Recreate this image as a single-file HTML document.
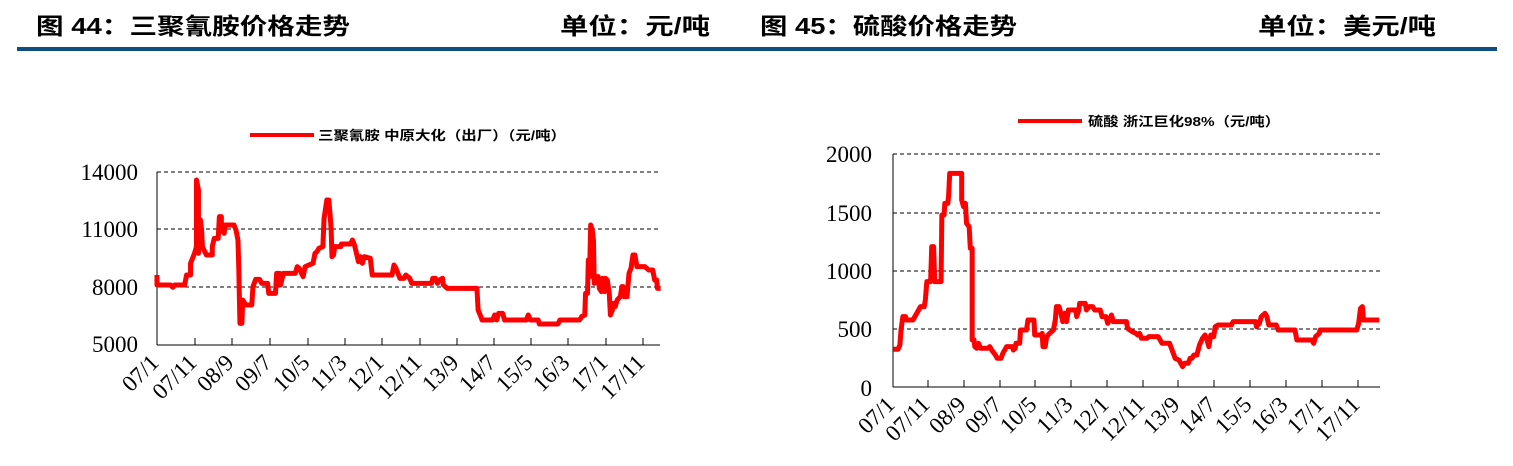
<!DOCTYPE html>
<html><head><meta charset="utf-8"><style>
html,body{margin:0;padding:0;background:#fff;}
svg{display:block;}
.t{font-family:"Liberation Sans","Noto Sans CJK SC",sans-serif;font-weight:bold;font-size:23px;fill:#000;}
.n{font-family:"Liberation Serif","Noto Serif CJK SC",serif;font-size:23px;fill:#000;}
.lg{font-family:"Liberation Sans","Noto Sans CJK SC",sans-serif;font-weight:bold;font-size:13px;fill:#000;}
.g{stroke:#000;stroke-width:1;stroke-dasharray:4,3;}
</style></head><body>
<svg width="1513" height="466" viewBox="0 0 1513 466" xmlns="http://www.w3.org/2000/svg">
<rect width="1513" height="466" fill="#fff"/>
<text class="t" x="36" y="34" textLength="314" lengthAdjust="spacingAndGlyphs">图 44：三聚氰胺价格走势</text>
<text class="t" x="560" y="34" textLength="150" lengthAdjust="spacingAndGlyphs">单位：元/吨</text>
<text class="t" x="760" y="34" textLength="257" lengthAdjust="spacingAndGlyphs">图 45：硫酸价格走势</text>
<text class="t" x="1258" y="34" textLength="178" lengthAdjust="spacingAndGlyphs">单位：美元/吨</text>
<rect x="17" y="47" width="1480" height="4" fill="#0e4d80"/>

<!-- Left chart -->
<line x1="250" y1="135" x2="314" y2="135" stroke="#f00" stroke-width="4"/>
<text class="lg" x="318" y="140" textLength="248" lengthAdjust="spacingAndGlyphs">三聚氰胺 中原大化（出厂）（元/吨）</text>
<line class="g" x1="157" y1="172" x2="660" y2="172"/>
<line class="g" x1="157" y1="229" x2="660" y2="229"/>
<line class="g" x1="157" y1="287" x2="660" y2="287"/>
<line x1="157" y1="172" x2="157" y2="345" stroke="#000"/>
<line x1="157" y1="345" x2="660" y2="345" stroke="#000"/>
<g stroke="#000">
<line x1="195" y1="338" x2="195" y2="345"/><line x1="232" y1="338" x2="232" y2="345"/><line x1="270" y1="338" x2="270" y2="345"/><line x1="308" y1="338" x2="308" y2="345"/><line x1="345" y1="338" x2="345" y2="345"/><line x1="382" y1="338" x2="382" y2="345"/><line x1="420" y1="338" x2="420" y2="345"/><line x1="457" y1="338" x2="457" y2="345"/><line x1="494" y1="338" x2="494" y2="345"/><line x1="531" y1="338" x2="531" y2="345"/><line x1="568" y1="338" x2="568" y2="345"/><line x1="606" y1="338" x2="606" y2="345"/><line x1="643" y1="338" x2="643" y2="345"/>
</g>
<g class="n" text-anchor="end">
<text x="138" y="180">14000</text><text x="138" y="237">11000</text><text x="138" y="295">8000</text><text x="138" y="352">5000</text>
</g>
<g class="n" text-anchor="end">
<text transform="translate(160,364) rotate(-45)">07/1</text>
<text transform="translate(198,364) rotate(-45)">07/11</text>
<text transform="translate(235,364) rotate(-45)">08/9</text>
<text transform="translate(273,364) rotate(-45)">09/7</text>
<text transform="translate(311,364) rotate(-45)">10/5</text>
<text transform="translate(348,364) rotate(-45)">11/3</text>
<text transform="translate(385,364) rotate(-45)">12/1</text>
<text transform="translate(423,364) rotate(-45)">12/11</text>
<text transform="translate(460,364) rotate(-45)">13/9</text>
<text transform="translate(497,364) rotate(-45)">14/7</text>
<text transform="translate(534,364) rotate(-45)">15/5</text>
<text transform="translate(571,364) rotate(-45)">16/3</text>
<text transform="translate(609,364) rotate(-45)">17/1</text>
<text transform="translate(646,364) rotate(-45)">17/11</text>
</g>
<g transform="translate(60.2,120) scale(0.395,0.3333)">
<polyline fill="none" stroke="#f00" stroke-width="5" vector-effect="non-scaling-stroke" stroke-linejoin="round" points="245,465 245,495 280,495 285,502 290,495 315,495 320,465 330,465 330,430 340,400 345,380 345,180 350,210 350,400 355,300 358,330 360,380 370,405 385,405 385,380 390,355 400,355 403,290 408,290 408,330 415,340 418,315 440,315 445,330 450,360 452,440 455,610 460,610 462,540 470,555 485,555 488,500 495,478 505,478 510,490 525,490 528,520 545,520 548,460 555,460 558,495 565,460 595,460 600,440 605,445 615,470 620,440 630,435 640,430 645,400 650,395 655,385 665,380 668,295 675,240 680,240 683,280 686,330 688,410 692,405 695,380 710,380 712,372 735,372 740,360 745,375 750,400 755,425 760,410 765,430 770,410 785,415 790,465 840,465 845,435 850,445 855,460 860,475 870,475 875,465 885,475 890,490 940,490 943,475 950,475 955,490 960,480 968,475 970,495 980,505 1055,505 1058,570 1065,590 1068,600 1095,600 1100,585 1105,600 1110,580 1120,580 1125,600 1180,600 1185,585 1190,600 1210,600 1213,612 1260,612 1265,600 1315,600 1320,590 1328,585 1330,520 1335,520 1337,420 1340,470 1343,315 1347,330 1350,360 1352,490 1358,470 1362,470 1365,505 1370,515 1373,475 1378,515 1380,475 1385,480 1390,520 1393,585 1398,570 1400,550 1405,560 1410,540 1418,530 1422,500 1425,500 1428,530 1435,530 1440,460 1445,445 1450,405 1455,405 1460,440 1480,440 1490,450 1500,450 1505,480 1510,480 1512,505 1520,505"/>
</g>

<!-- Right chart -->
<line x1="1018" y1="121" x2="1082" y2="121" stroke="#f00" stroke-width="4"/>
<text class="lg" x="1088" y="126" textLength="192" lengthAdjust="spacingAndGlyphs">硫酸 浙江巨化98%（元/吨）</text>
<line class="g" x1="893" y1="154" x2="1380" y2="154"/>
<line class="g" x1="893" y1="213" x2="1380" y2="213"/>
<line class="g" x1="893" y1="271" x2="1380" y2="271"/>
<line class="g" x1="893" y1="329" x2="1380" y2="329"/>
<line x1="893" y1="154" x2="893" y2="387" stroke="#000"/>
<line x1="893" y1="387" x2="1380" y2="387" stroke="#000"/>
<g stroke="#000">
<line x1="928" y1="380" x2="928" y2="387"/><line x1="964" y1="380" x2="964" y2="387"/><line x1="1000" y1="380" x2="1000" y2="387"/><line x1="1035" y1="380" x2="1035" y2="387"/><line x1="1071" y1="380" x2="1071" y2="387"/><line x1="1107" y1="380" x2="1107" y2="387"/><line x1="1143" y1="380" x2="1143" y2="387"/><line x1="1178" y1="380" x2="1178" y2="387"/><line x1="1214" y1="380" x2="1214" y2="387"/><line x1="1250" y1="380" x2="1250" y2="387"/><line x1="1286" y1="380" x2="1286" y2="387"/><line x1="1322" y1="380" x2="1322" y2="387"/><line x1="1358" y1="380" x2="1358" y2="387"/>
</g>
<g class="n" text-anchor="end">
<text x="872" y="162">2000</text><text x="872" y="221">1500</text><text x="872" y="279">1000</text><text x="872" y="337">500</text><text x="872" y="396">0</text>
</g>
<g class="n" text-anchor="end">
<text transform="translate(896,406) rotate(-45)">07/1</text>
<text transform="translate(931,406) rotate(-45)">07/11</text>
<text transform="translate(967,406) rotate(-45)">08/9</text>
<text transform="translate(1003,406) rotate(-45)">09/7</text>
<text transform="translate(1038,406) rotate(-45)">10/5</text>
<text transform="translate(1074,406) rotate(-45)">11/3</text>
<text transform="translate(1110,406) rotate(-45)">12/1</text>
<text transform="translate(1146,406) rotate(-45)">12/11</text>
<text transform="translate(1181,406) rotate(-45)">13/9</text>
<text transform="translate(1217,406) rotate(-45)">14/7</text>
<text transform="translate(1253,406) rotate(-45)">15/5</text>
<text transform="translate(1289,406) rotate(-45)">16/3</text>
<text transform="translate(1325,406) rotate(-45)">17/1</text>
<text transform="translate(1361,406) rotate(-45)">17/11</text>
</g>
<g transform="translate(810,100) scale(0.3745,0.3333)">
<polyline fill="none" stroke="#f00" stroke-width="5" vector-effect="non-scaling-stroke" stroke-linejoin="round" points="222,748 235,748 240,735 243,690 248,650 255,650 258,660 275,660 280,650 290,630 295,620 305,620 308,600 312,545 318,545 322,545 325,440 330,440 333,545 350,545 352,345 358,345 360,310 368,310 370,290 373,220 405,220 405,300 410,320 415,310 418,370 425,380 428,445 433,445 433,720 438,720 440,740 445,745 450,730 455,745 475,745 480,740 485,750 495,765 500,775 510,775 515,760 525,740 540,740 543,750 548,745 550,730 560,730 562,690 570,690 578,690 582,660 598,660 600,705 615,705 620,700 622,740 628,740 632,710 640,700 650,690 655,660 658,620 665,620 670,640 675,665 680,640 685,665 690,630 710,630 712,650 718,630 720,610 735,610 738,630 745,620 755,620 760,630 775,630 780,650 790,650 795,670 800,660 805,645 810,665 845,665 848,685 860,695 870,700 875,705 880,700 885,715 900,715 905,710 930,710 935,720 940,730 960,730 965,745 970,760 975,775 985,780 995,800 1000,790 1010,790 1015,775 1020,775 1025,765 1033,765 1040,735 1048,715 1055,705 1060,720 1065,740 1070,705 1078,710 1082,680 1090,675 1125,675 1130,665 1190,665 1192,680 1200,670 1205,650 1215,640 1220,650 1225,675 1245,675 1250,690 1295,690 1300,720 1340,720 1345,730 1350,710 1360,700 1362,690 1460,690 1465,670 1470,625 1475,620 1478,660 1520,660"/>
</g>
</svg>
</body></html>
